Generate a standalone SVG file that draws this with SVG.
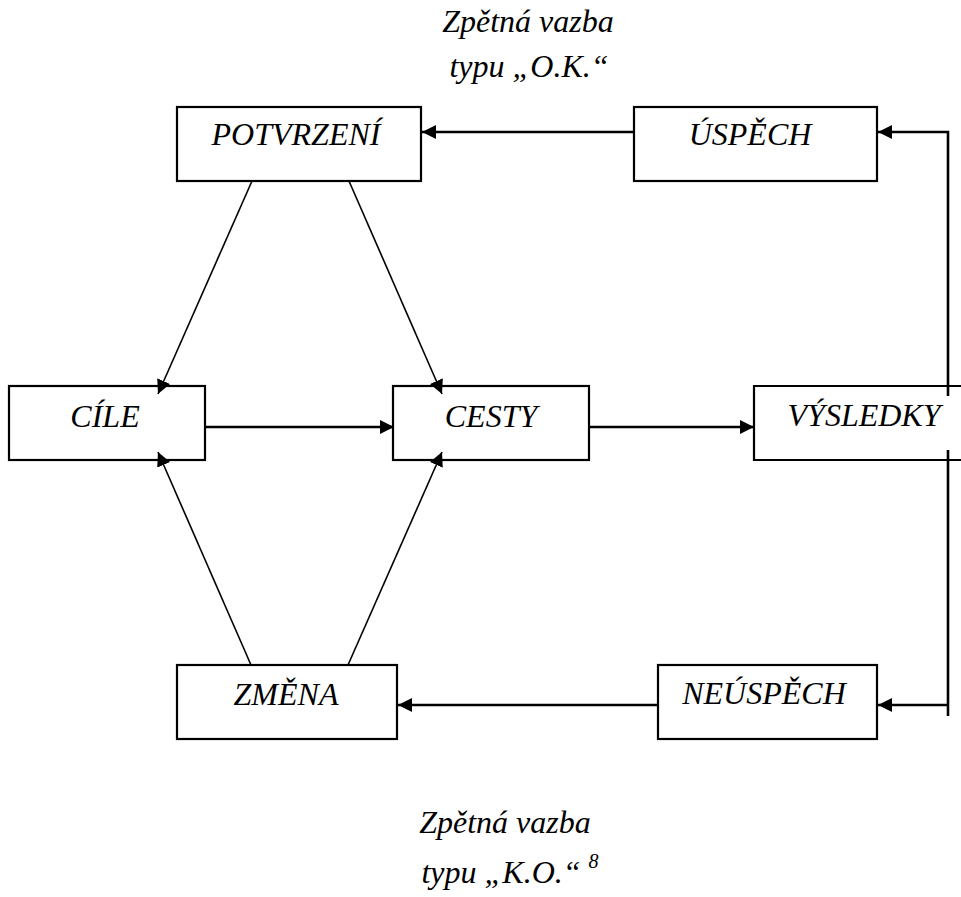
<svg xmlns="http://www.w3.org/2000/svg" width="961" height="897" viewBox="0 0 961 897">
<style>
.box{fill:#fff;stroke:#000;stroke-width:2.2}
.t{font-family:"Liberation Serif","Times New Roman",serif;font-style:italic;font-size:32px;fill:#000;text-anchor:middle}
.sup{font-size:20px}
.c{stroke:#000;fill:none}
.thick{stroke-width:2.6}
.thin{stroke-width:1.6}
</style>
<defs>
<marker id="ah" viewBox="0 0 14 14" refX="14" refY="7" markerWidth="14" markerHeight="14" markerUnits="userSpaceOnUse" orient="auto">
<path d="M0,0 L14,7 L0,14 Z" fill="#000"/>
</marker>
</defs>
<rect width="961" height="897" fill="#fff"/>
<text class="t" x="528" y="32">Zpětná vazba</text>
<text class="t" x="529" y="77">typu „O.K.“</text>
<text class="t" x="505" y="833">Zpětná vazba</text>
<text class="t" x="510" y="883">typu „K.O.“ <tspan class="sup" dy="-15">8</tspan></text>
<g id="node-potvrzeni"><rect class="box" x="177" y="107" width="244" height="74"/><text class="t" x="296" y="145">POTVRZENÍ</text></g>
<g id="node-uspech"><rect class="box" x="634" y="107" width="243" height="74"/><text class="t" x="750" y="145">ÚSPĚCH</text></g>
<g id="node-cile"><rect class="box" x="9" y="386" width="196" height="74"/><text class="t" x="105" y="427">CÍLE</text></g>
<g id="node-cesty"><rect class="box" x="393" y="386" width="196" height="74"/><text class="t" x="491" y="427">CESTY</text></g>
<g id="node-vysledky"><path class="c" stroke-width="2.2" d="M961,386 H754 V460 H961"/><text class="t" x="864" y="426">VÝSLEDKY</text></g>
<g id="node-zmena"><rect class="box" x="177" y="665" width="220" height="74"/><text class="t" x="286" y="705">ZMĚNA</text></g>
<g id="node-neuspech"><rect class="box" x="658" y="665" width="219" height="74"/><text class="t" x="764" y="704">NEÚSPĚCH</text></g>
<g id="connectors">
<line class="c thick" x1="634" y1="132" x2="422" y2="132" marker-end="url(#ah)"/>
<path class="c thick" d="M948,396 V132 H878" marker-end="url(#ah)"/>
<path class="c thick" d="M948,450 V716 M948,705 H878" marker-end="url(#ah)"/>
<line class="c thick" x1="658" y1="705" x2="398" y2="705" marker-end="url(#ah)"/>
<line class="c thick" x1="205" y1="427" x2="394" y2="427" marker-end="url(#ah)"/>
<line class="c thick" x1="589" y1="427" x2="754" y2="427" marker-end="url(#ah)"/>
<line class="c thin" x1="252" y1="181" x2="158" y2="394" marker-end="url(#ah)"/>
<line class="c thin" x1="349" y1="181" x2="442" y2="394" marker-end="url(#ah)"/>
<line class="c thin" x1="251" y1="665" x2="158" y2="452" marker-end="url(#ah)"/>
<line class="c thin" x1="348" y1="665" x2="442" y2="452" marker-end="url(#ah)"/>
</g>
</svg>
